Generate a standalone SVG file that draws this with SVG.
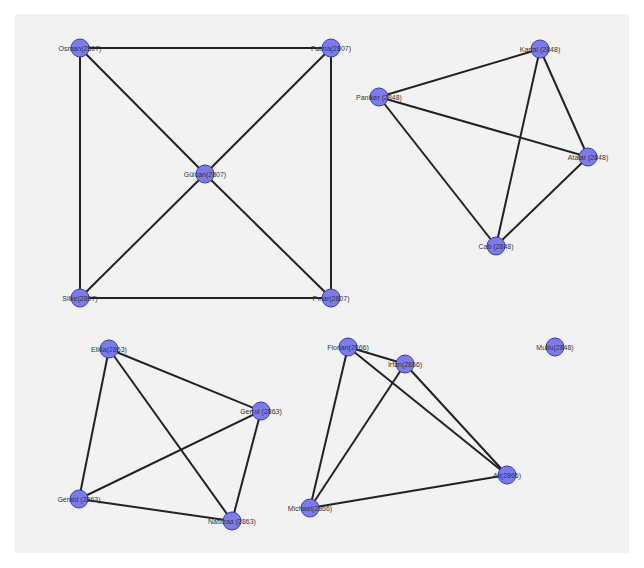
<svg xmlns="http://www.w3.org/2000/svg" width="644" height="568" viewBox="0 0 644 568">
<style>
.e{stroke:#222;stroke-width:2;fill:none}
.n{fill:#7b7bef;stroke:#3a3ab0;stroke-width:1}
.t{font-family:"Liberation Sans",Arial,sans-serif;font-size:7px;fill:#333;text-anchor:middle}
</style>
<rect x="0" y="0" width="644" height="568" fill="#ffffff"/>
<rect x="15" y="14" width="614" height="539" fill="#f2f2f2"/>
<g id="connectors">
<line class="e" x1="80" y1="48" x2="331" y2="48"/>
<line class="e" x1="80" y1="48" x2="80" y2="298"/>
<line class="e" x1="331" y1="48" x2="331" y2="298"/>
<line class="e" x1="80" y1="298" x2="331" y2="298"/>
<line class="e" x1="80" y1="48" x2="205" y2="174"/>
<line class="e" x1="331" y1="48" x2="205" y2="174"/>
<line class="e" x1="80" y1="298" x2="205" y2="174"/>
<line class="e" x1="331" y1="298" x2="205" y2="174"/>
<line class="e" x1="379" y1="97" x2="540" y2="49"/>
<line class="e" x1="379" y1="97" x2="588" y2="157"/>
<line class="e" x1="379" y1="97" x2="496" y2="246"/>
<line class="e" x1="540" y1="49" x2="496" y2="246"/>
<line class="e" x1="540" y1="49" x2="588" y2="157"/>
<line class="e" x1="588" y1="157" x2="496" y2="246"/>
<line class="e" x1="109" y1="349" x2="79" y2="499"/>
<line class="e" x1="109" y1="349" x2="232" y2="521"/>
<line class="e" x1="109" y1="349" x2="261" y2="411"/>
<line class="e" x1="261" y1="411" x2="79" y2="499"/>
<line class="e" x1="261" y1="411" x2="232" y2="521"/>
<line class="e" x1="79" y1="499" x2="232" y2="521"/>
<line class="e" x1="348" y1="347" x2="405" y2="364"/>
<line class="e" x1="348" y1="347" x2="310" y2="508"/>
<line class="e" x1="348" y1="347" x2="507" y2="475"/>
<line class="e" x1="405" y1="364" x2="310" y2="508"/>
<line class="e" x1="405" y1="364" x2="507" y2="475"/>
<line class="e" x1="310" y1="508" x2="507" y2="475"/>
</g>
<g id="osman"><circle class="n" cx="80" cy="48" r="9"/><text class="t" x="80" y="51">Osman(2807)</text></g>
<g id="fatma"><circle class="n" cx="331" cy="48" r="9"/><text class="t" x="331" y="51">Fatma(2807)</text></g>
<g id="gulcan"><circle class="n" cx="205" cy="174" r="9"/><text class="t" x="205" y="177">Gülcan(2807)</text></g>
<g id="silke"><circle class="n" cx="80" cy="298" r="9"/><text class="t" x="80" y="301">Silke(2807)</text></g>
<g id="pinar"><circle class="n" cx="331" cy="298" r="9"/><text class="t" x="331" y="301">Pınar(2807)</text></g>
<g id="kartal"><circle class="n" cx="540" cy="49" r="9"/><text class="t" x="540" y="52">Kartal (2848)</text></g>
<g id="paniker"><circle class="n" cx="379" cy="97" r="9"/><text class="t" x="379" y="100">Paniker (2848)</text></g>
<g id="atalar"><circle class="n" cx="588" cy="157" r="9"/><text class="t" x="588" y="160">Atalar (2848)</text></g>
<g id="cab"><circle class="n" cx="496" cy="246" r="9"/><text class="t" x="496" y="249">Cab (2848)</text></g>
<g id="elida"><circle class="n" cx="109" cy="349" r="9"/><text class="t" x="109" y="352">Elida(2863)</text></g>
<g id="gerrol"><circle class="n" cx="261" cy="411" r="9"/><text class="t" x="261" y="414">Gerrol (2863)</text></g>
<g id="gerald"><circle class="n" cx="79" cy="499" r="9"/><text class="t" x="79" y="502">Gerald (2863)</text></g>
<g id="nabizaa"><circle class="n" cx="232" cy="521" r="9"/><text class="t" x="232" y="524">Nabizaa (2863)</text></g>
<g id="florian"><circle class="n" cx="348" cy="347" r="9"/><text class="t" x="348" y="350">Florian(2866)</text></g>
<g id="irfan"><circle class="n" cx="405" cy="364" r="9"/><text class="t" x="405" y="367">Irfan(2866)</text></g>
<g id="ali"><circle class="n" cx="507" cy="475" r="9"/><text class="t" x="507" y="478">Ali(2866)</text></g>
<g id="michael"><circle class="n" cx="310" cy="508" r="9"/><text class="t" x="310" y="511">Michael(2866)</text></g>
<g id="mutlu"><circle class="n" cx="555" cy="347" r="9"/><text class="t" x="555" y="350">Mutlu(2848)</text></g>
</svg>
